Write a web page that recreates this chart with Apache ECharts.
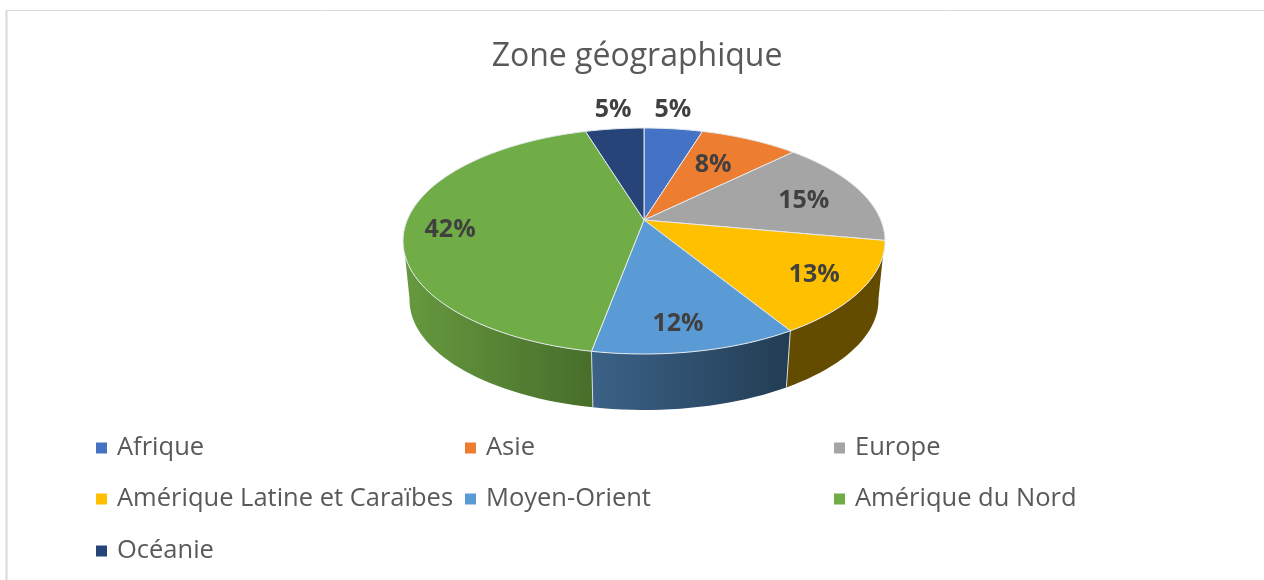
<!DOCTYPE html>
<html>
<head>
<meta charset="utf-8">
<style>html,body{margin:0;padding:0;background:#fff}#chart{width:1264px;height:580px}</style>
<script src="https://cdn.jsdelivr.net/npm/echarts@6/dist/echarts.min.js"></script>
</head>
<body>
<div id="chart"></div>
<script>
var categories = ['Afrique', 'Asie', 'Europe', 'Amérique Latine et Caraïbes', 'Moyen-Orient', 'Amérique du Nord', 'Océanie'];
var shares = [4.7, 7.9, 15.3, 13.4, 11.6, 42.4, 4.7];

var topColors = ['#4472C4', '#ED7D31', '#A5A5A5', '#FFC000', '#5B9BD5', '#70AD47', '#264478'];
// left and right colour of the outer wall
var wallColors = [null, null, null, ['#634B00', '#634B00'], ['#3B6287', '#223D54'], ['#66993F', '#476E2A'], null];
// label placement in the plane of the pie: radius factor and turn in degrees from the slice middle
var labelRadius = [1.277, 0.663, 0.728, 0.799, 0.805, 0.811, 1.278];
var labelTurn = [-1.7, -1.9, 1.1, -0.1, 1.7, -1.8, 1.2];
// legend slots, read left to right then down
var legendLeft = [96, 465, 834, 96, 465, 834, 96];
var legendTop = [435, 435, 435, 486, 486, 486, 538];

// perspective of the tilted disc
var apexX = 644, apexY = 220;
var scaleX = 236.8, scaleY = 109.1, tilt = 0.186;
var bottomScale = 0.973, bottomDrop = 59.6;
var wallFrom = 108, wallTo = 252, rimFrom = 100, rimTo = 260;

function project(deg, r, bottom) {
    var a = deg * Math.PI / 180;
    var u = Math.sin(a) * r, v = Math.cos(a) * r;
    var w = 1 + tilt * v;
    var x = scaleX * u / w, y = -scaleY * v / w;
    if (bottom) {
        x *= bottomScale;
        y = y * bottomScale + bottomDrop;
    }
    return [apexX + x, apexY + y];
}

function arc(from, to, bottom) {
    var pts = [], n = Math.max(2, Math.ceil(Math.abs(to - from) / 2));
    for (var i = 0; i <= n; i++) {
        pts.push(project(from + (to - from) * i / n, 1, bottom));
    }
    return pts;
}

var starts = [], running = 0;
shares.forEach(function (v) {
    starts.push(running);
    running += v;
});

function renderSlice(params, api) {
    var i = params.seriesIndex;
    var start = api.value(0) * 3.6;
    var end = start + api.value(1) * 3.6;
    var kids = [];

    var a1 = Math.max(start, wallFrom), a2 = Math.min(end, wallTo);
    if (a1 < a2) {
        var b1 = start < wallFrom ? rimFrom : a1;
        var b2 = end > wallTo ? rimTo : a2;
        var pts = arc(a1, a2, false).concat(arc(b1, b2, true).reverse());
        kids.push({
            type: 'polygon',
            z2: 1,
            shape: { points: pts },
            style: {
                fill: new echarts.graphic.LinearGradient(0, 0, 1, 0, [
                    { offset: 0, color: wallColors[i][0] },
                    { offset: 1, color: wallColors[i][1] }
                ]),
                stroke: null
            }
        });
        // pale seam where two walls meet
        if (start >= wallFrom) {
            kids.push({
                type: 'line',
                z2: 2,
                shape: {
                    x1: project(start, 1, false)[0], y1: project(start, 1, false)[1],
                    x2: project(start, 1, true)[0], y2: project(start, 1, true)[1]
                },
                style: { stroke: '#D5DAD8', lineWidth: 1 }
            });
        }
    }

    kids.push({
        type: 'polygon',
        z2: 3,
        shape: { points: [project(0, 0, false)].concat(arc(start, end, false)) },
        style: { fill: topColors[i], stroke: '#E4E8EC', lineWidth: 1, lineJoin: 'round' }
    });

    var spot = project((start + end) / 2 + labelTurn[i], labelRadius[i], false);
    kids.push({
        type: 'text',
        z2: 10,
        x: spot[0],
        y: spot[1] + 1.5,
        style: {
            text: Math.round(api.value(1)) + '%',
            fill: '#404040',
            font: 'bold 25px "Open Sans"',
            align: 'center',
            verticalAlign: 'middle'
        }
    });

    return { type: 'group', children: kids };
}

var chart = echarts.init(document.getElementById('chart'), null, { renderer: 'canvas' });

chart.setOption({
    animation: false,
    backgroundColor: '#fff',
    title: {
        text: 'Zone géographique',
        left: 637,
        top: 41,
        textAlign: 'center',
        padding: 0,
        textStyle: { fontFamily: 'Open Sans', fontSize: 32, fontWeight: 'normal', color: '#595959' }
    },
    graphic: [
        { type: 'line', shape: { x1: 6, y1: 10.5, x2: 1264, y2: 10.5 }, style: { stroke: '#D9D9D9', lineWidth: 1 } },
        { type: 'line', shape: { x1: 6.5, y1: 10, x2: 6.5, y2: 580 }, style: { stroke: '#D9D9D9', lineWidth: 2 } }
    ],
    legend: categories.map(function (name, i) {
        return {
            data: [name],
            left: legendLeft[i],
            top: legendTop[i],
            padding: 0,
            icon: 'rect',
            itemWidth: 11,
            itemHeight: 11,
            selectedMode: false,
            textStyle: { fontFamily: 'Open Sans', fontSize: 25.5, color: '#595959', padding: [2, 0, 0, 5] }
        };
    }),
    series: categories.map(function (name, i) {
        return {
            type: 'custom',
            name: name,
            coordinateSystem: 'none',
            silent: true,
            itemStyle: { color: topColors[i] },
            renderItem: renderSlice,
            data: [[starts[i], shares[i]]]
        };
    })
});
</script>
</body>
</html>
